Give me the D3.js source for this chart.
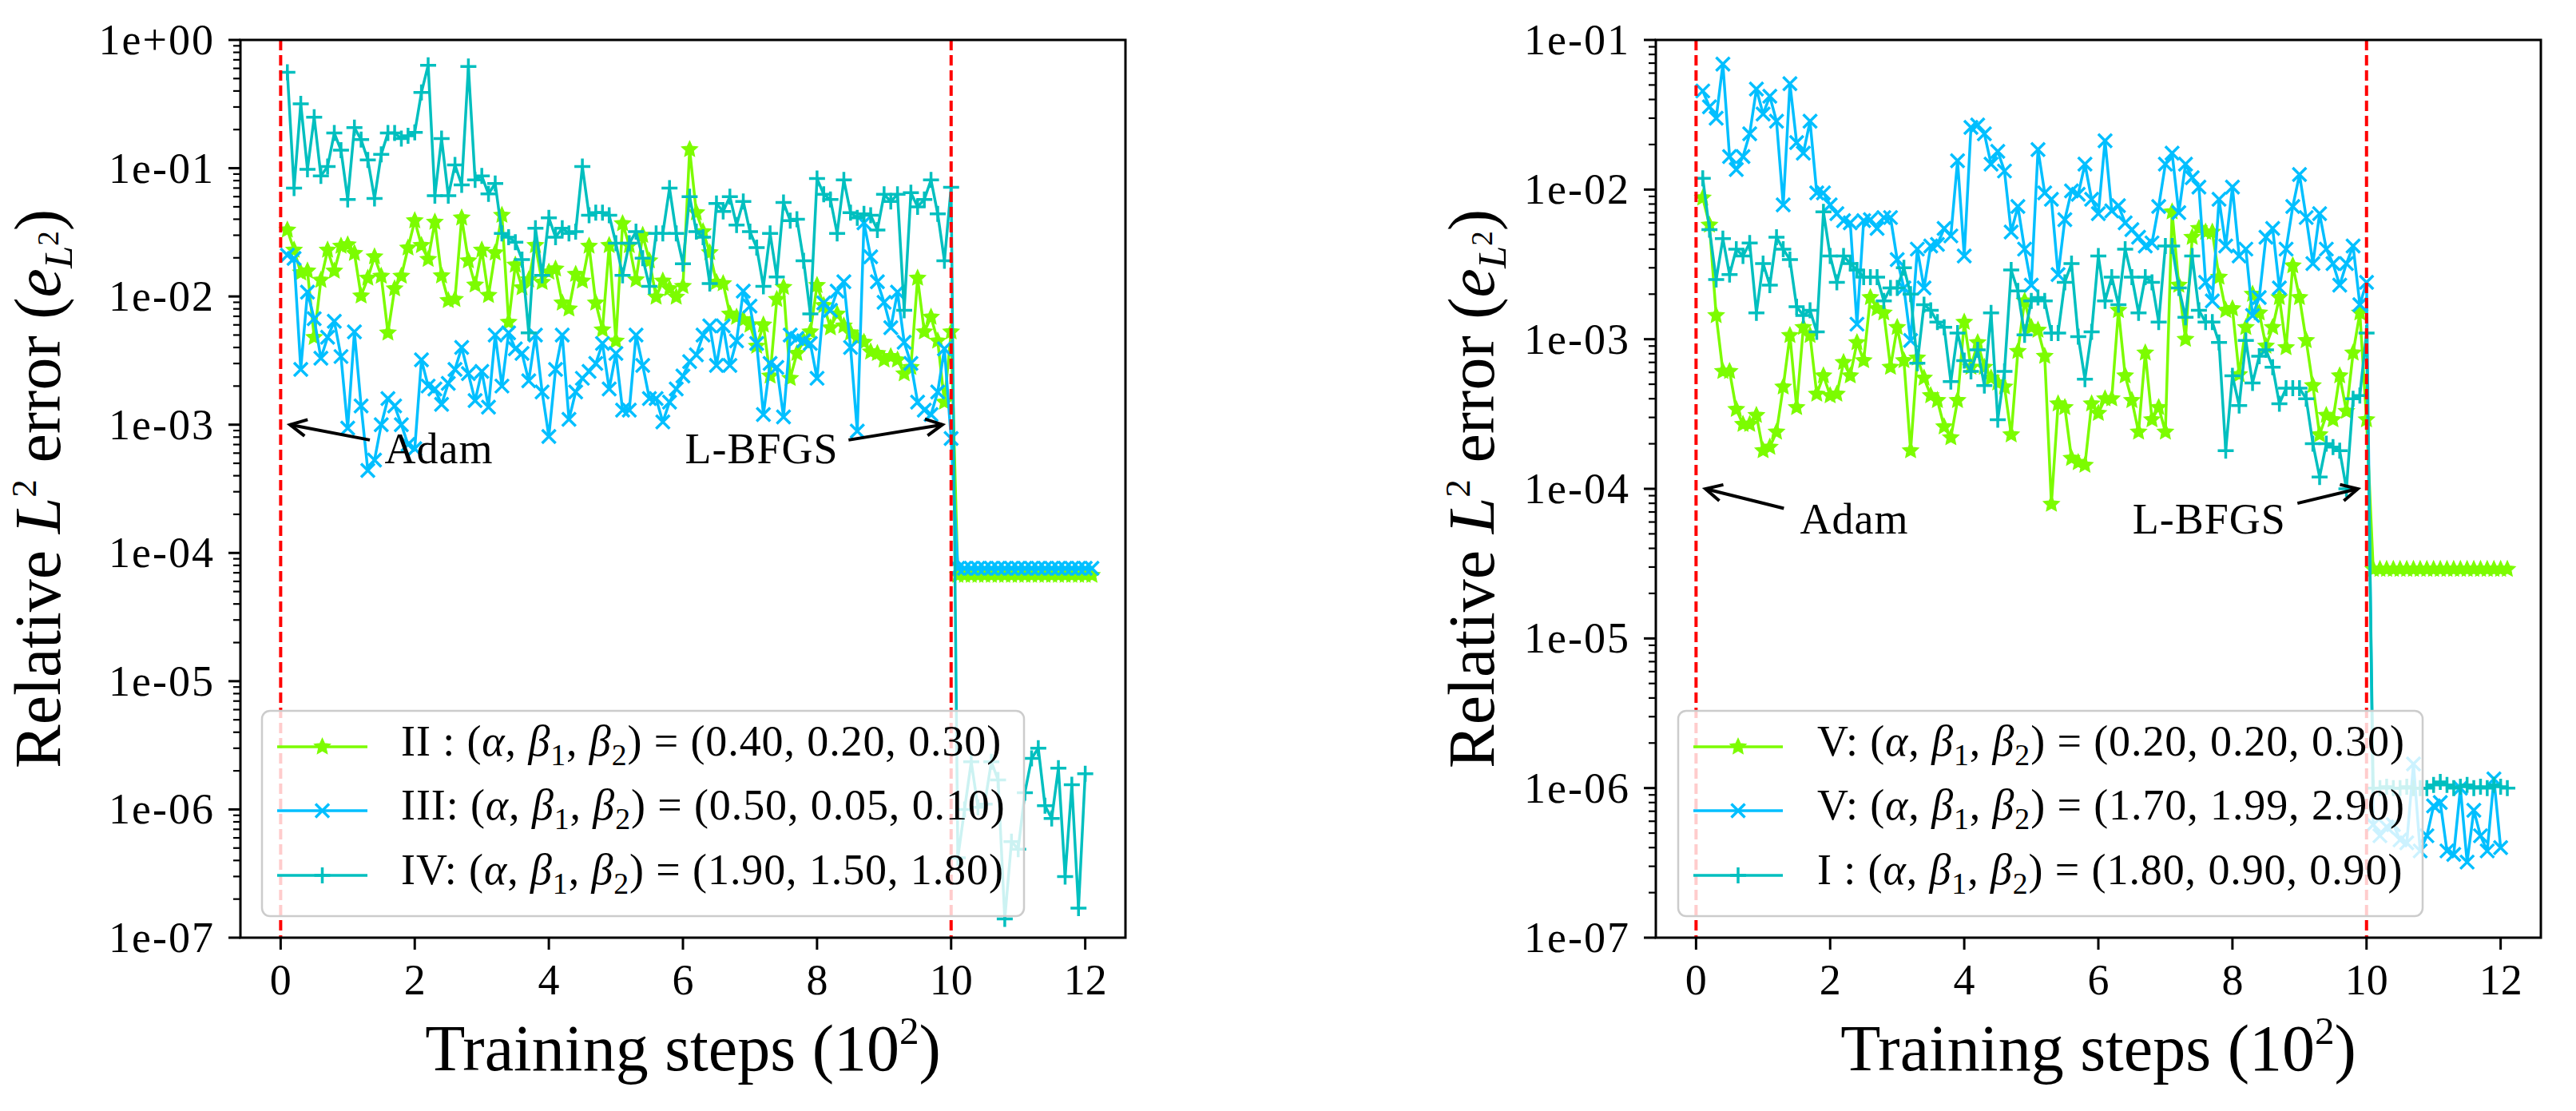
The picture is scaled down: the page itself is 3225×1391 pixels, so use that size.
<!DOCTYPE html>
<html><head><meta charset="utf-8">
<script src="https://cdn.jsdelivr.net/npm/d3@7"></script>
<style>
body{margin:0;background:#fff}
svg{display:block}
svg text, svg tspan{font-family:"Liberation Serif","DejaVu Serif","Times New Roman",Times,serif;fill:#000}
</style></head>
<body><svg id="chart" width="3225" height="1391" font-family="Liberation Serif, DejaVu Serif, serif"></svg>
<script>
// ---------------- DATA ----------------
// training steps (in units of 10^2); Adam phase 0.1..10.0, L-BFGS phase after 10
const adamSteps = d3.range(1, 101).map(i => i / 10);
const lbfgsSteps21 = d3.range(101, 122).map(i => i / 10);
const lbfgsSteps20 = d3.range(101, 121).map(i => i / 10);

// Left panel
const leftII_adam = [
 0.033,0.023,0.0153,0.0158,0.0048,0.0134,0.023,0.0158,0.0247,0.0253,
 0.0217,0.0101,0.0139,0.0204,0.0144,0.0052,0.0115,0.0144,0.0239,0.039,
 0.025,0.0195,0.038,0.0145,0.0093,0.0095,0.041,0.019,0.0123,0.023,
 0.0102,0.0219,0.043,0.0063,0.0176,0.0117,0.0135,0.025,0.0129,0.0155,
 0.0164,0.0089,0.008,0.0149,0.0132,0.0247,0.0089,0.0055,0.025,0.0045,
 0.037,0.025,0.0135,0.030,0.019,0.0099,0.0132,0.0115,0.0099,0.012,
 0.14,0.045,0.032,0.022,0.0129,0.0126,0.0073,0.0069,0.0066,0.006,
 0.0041,0.006,0.0024,0.0095,0.0118,0.0023,0.0036,0.0045,0.0053,0.0122,
 0.0085,0.0057,0.0073,0.0059,0.0052,0.0047,0.0044,0.0037,0.0036,0.0032,
 0.0034,0.0032,0.0025,0.0028,0.0139,0.0053,0.0069,0.0045,0.0015,0.0053];
const leftII_lbfgs = [6.7e-5,6.7e-5,6.7e-5,6.7e-5,6.7e-5,6.7e-5,6.7e-5,6.7e-5,6.7e-5,6.7e-5,6.7e-5,
 6.7e-5,6.7e-5,6.7e-5,6.7e-5,6.7e-5,6.7e-5,6.7e-5,6.7e-5,6.7e-5,6.7e-5];

const leftIII_adam = [
 0.021,0.0198,0.0027,0.0108,0.0067,0.0033,0.0048,0.0064,0.0034,0.00094,
 0.0053,0.0014,0.00044,0.00053,0.001,0.0016,0.0014,0.001,0.0007,0.00065,
 0.0032,0.002,0.0019,0.00144,0.0021,0.0027,0.004,0.0025,0.00154,0.0026,
 0.00137,0.005,0.002,0.0052,0.0039,0.0036,0.0022,0.005,0.0018,0.00081,
 0.0027,0.005,0.0011,0.0018,0.0023,0.0026,0.003,0.0043,0.0019,0.0036,
 0.0013,0.0013,0.005,0.0029,0.0016,0.0016,0.00105,0.0015,0.0019,0.0024,
 0.0031,0.0035,0.005,0.0059,0.0029,0.0059,0.0029,0.0045,0.011,0.0084,
 0.0043,0.0012,0.003,0.0028,0.00115,0.005,0.0047,0.0045,0.0043,0.0023,
 0.0089,0.0078,0.011,0.013,0.004,0.00089,0.0375,0.0204,0.013,0.009,
 0.0057,0.0108,0.0044,0.003,0.0015,0.0013,0.0012,0.0018,0.0039,0.00078];
const leftIII_lbfgs = [7.6e-5,7.6e-5,7.6e-5,7.6e-5,7.6e-5,7.6e-5,7.6e-5,7.6e-5,7.6e-5,7.6e-5,7.6e-5,
 7.6e-5,7.6e-5,7.6e-5,7.6e-5,7.6e-5,7.6e-5,7.6e-5,7.6e-5,7.6e-5,7.6e-5];

const leftIV_adam = [
 0.56,0.070,0.318,0.098,0.25,0.087,0.103,0.188,0.138,0.057,
 0.207,0.167,0.116,0.058,0.128,0.188,0.188,0.17,0.179,0.19,
 0.39,0.635,0.061,0.17,0.061,0.106,0.074,0.62,0.081,0.087,
 0.063,0.076,0.031,0.029,0.0265,0.0194,0.0052,0.034,0.0146,0.041,
 0.029,0.034,0.031,0.032,0.103,0.043,0.045,0.045,0.043,0.026,
 0.0146,0.026,0.032,0.0199,0.012,0.031,0.031,0.070,0.031,0.018,
 0.060,0.032,0.029,0.0126,0.053,0.046,0.060,0.036,0.055,0.032,
 0.024,0.012,0.031,0.0142,0.054,0.039,0.040,0.019,0.0073,0.083,
 0.0625,0.057,0.031,0.081,0.045,0.041,0.044,0.043,0.033,0.0625,
 0.055,0.0625,0.0078,0.0645,0.050,0.057,0.081,0.044,0.019,0.071];
const leftIV_lbfgs = [4.2e-7,1.0e-6,2.35e-6,1.04e-6,1.1e-6,2.35e-6,1.7e-6,1.4e-7,5.6e-7,4.9e-7,
 1.35e-6,2.5e-6,3.0e-6,1.07e-6,8.5e-7,2.1e-6,3.0e-7,1.56e-6,1.7e-7,1.9e-6];

// Right panel
const rightVa_adam = [
 0.0088,0.0058,0.00144,0.00061,0.00061,0.00034,0.00027,0.00027,0.00031,0.00018,
 0.00019,0.00024,0.00048,0.00106,0.00035,0.0012,0.00106,0.00043,0.00057,0.00042,
 0.00043,0.0007,0.00057,0.00095,0.00072,0.0019,0.0016,0.0015,0.00065,0.0012,
 0.00072,0.00018,0.00075,0.00055,0.00042,0.00039,0.00026,0.00022,0.00039,0.0013,
 0.00065,0.00095,0.00065,0.00055,0.00051,0.00048,0.00023,0.00083,0.0018,0.0012,
 0.00115,0.00077,0.000079,0.00037,0.00035,0.00016,0.00015,0.000144,0.00037,0.00032,
 0.0004,0.0004,0.00156,0.00057,0.00039,0.00024,0.00081,0.00029,0.00035,0.00024,
 0.0071,0.0023,0.001,0.0048,0.0055,0.0052,0.0052,0.0026,0.00156,0.0016,
 0.00058,0.0012,0.002,0.0015,0.0009,0.0012,0.0019,0.00088,0.0031,0.0019,
 0.00098,0.00049,0.00023,0.00031,0.00029,0.00057,0.00033,0.00081,0.0015,0.00029];
const rightVa_lbfgs = [2.9e-5,2.9e-5,2.9e-5,2.9e-5,2.9e-5,2.9e-5,2.9e-5,2.9e-5,2.9e-5,2.9e-5,2.9e-5,
 2.9e-5,2.9e-5,2.9e-5,2.9e-5,2.9e-5,2.9e-5,2.9e-5,2.9e-5,2.9e-5,2.9e-5];

const rightVb_adam = [
 0.0456,0.0357,0.030,0.069,0.0166,0.0136,0.0166,0.0236,0.047,0.032,
 0.042,0.0286,0.0079,0.051,0.0206,0.0175,0.0286,0.0095,0.0095,0.0079,
 0.0069,0.0062,0.006,0.00126,0.0062,0.0063,0.0055,0.0065,0.0065,0.0034,
 0.0022,0.00098,0.004,0.0022,0.0042,0.0043,0.0055,0.0049,0.0156,0.0036,
 0.026,0.027,0.0236,0.0148,0.018,0.0133,0.0052,0.0077,0.004,0.0023,
 0.0185,0.0095,0.0086,0.0027,0.0063,0.0098,0.0093,0.0148,0.0086,0.0069,
 0.0212,0.0072,0.0078,0.006,0.0054,0.0048,0.0042,0.0044,0.0077,0.0148,
 0.0175,0.007,0.0148,0.012,0.0104,0.0024,0.0018,0.0086,0.0042,0.0104,
 0.0036,0.004,0.00144,0.0019,0.0048,0.0055,0.0022,0.004,0.0077,0.0126,
 0.0065,0.0032,0.0069,0.004,0.0032,0.0023,0.0032,0.0042,0.0017,0.0024];
const rightVb_lbfgs = [5.7e-7,4.8e-7,5.5e-7,5.7e-7,4.5e-7,4.3e-7,1.45e-6,3.8e-7,4.8e-7,7.6e-7,
 8.0e-7,3.8e-7,3.6e-7,1.0e-6,3.2e-7,7.1e-7,4.8e-7,3.8e-7,1.15e-6,4.0e-7];

const rightI_adam = [
 0.0119,0.0054,0.0025,0.0047,0.0027,0.004,0.0036,0.0044,0.0015,0.0032,
 0.0023,0.0048,0.004,0.0034,0.00165,0.00144,0.00156,0.00112,0.0071,0.0036,
 0.0024,0.0036,0.0032,0.0029,0.0026,0.0026,0.0026,0.0018,0.0022,0.0022,
 0.003,0.002,0.00069,0.0017,0.00156,0.0013,0.0012,0.00052,0.0011,0.00072,
 0.00061,0.00085,0.00049,0.0015,0.00029,0.00061,0.0029,0.0021,0.00107,0.0018,
 0.0019,0.0018,0.0011,0.0011,0.0024,0.0032,0.00104,0.00054,0.00112,0.0036,
 0.0018,0.0026,0.0017,0.004,0.0026,0.0015,0.0026,0.0024,0.0013,0.0042,
 0.0042,0.0022,0.0014,0.0036,0.00156,0.0013,0.0013,0.00095,0.00018,0.00057,
 0.00036,0.00098,0.00051,0.00077,0.00085,0.00065,0.00037,0.00047,0.00047,0.00047,
 0.0004,0.0002,0.00012,0.0002,0.00019,0.00018,0.0001,0.0004,0.00042,0.0011];
const rightI_lbfgs = [1.0e-6,1.0e-6,1.02e-6,1.0e-6,1.0e-6,1.02e-6,1.0e-6,1.0e-6,1.0e-6,1.05e-6,1.1e-6,
 1.05e-6,1.0e-6,1.02e-6,1.05e-6,1.0e-6,1.02e-6,1.0e-6,1.05e-6,1.02e-6,1.0e-6];

const xTickValues = [0, 2, 4, 6, 8, 10, 12];
const leftYTicks = [1, 1e-1, 1e-2, 1e-3, 1e-4, 1e-5, 1e-6, 1e-7];
const leftYTickLabels = ["1e+00","1e-01","1e-02","1e-03","1e-04","1e-05","1e-06","1e-07"];
const rightYTicks = [1e-1, 1e-2, 1e-3, 1e-4, 1e-5, 1e-6, 1e-7];
const rightYTickLabels = ["1e-01","1e-02","1e-03","1e-04","1e-05","1e-06","1e-07"];
const phaseBoundaries = [0, 10];

const leftLegendNames = ["II :", "III:", "IV:"];
const leftLegendParams = ["(0.40, 0.20, 0.30)", "(0.50, 0.05, 0.10)", "(1.90, 1.50, 1.80)"];
const rightLegendNames = ["V:", "V:", "I :"];
const rightLegendParams = ["(0.20, 0.20, 0.30)", "(1.70, 1.99, 2.90)", "(1.80, 0.90, 0.90)"];

// annotations: text anchor, arrow start, arrow tip (data coords)
const leftAnnotations = [
  {text: "Adam",   at: [1.55, 5.0e-4], from: [1.33, 7.6e-4], to: [0.14, 1e-3]},
  {text: "L-BFGS", at: [6.03, 5.0e-4], from: [8.47, 7.6e-4], to: [9.87, 1e-3]}
];
const rightAnnotations = [
  {text: "Adam",   at: [1.55, 5.0e-5], from: [1.31, 7.4e-5], to: [0.14, 1e-4]},
  {text: "L-BFGS", at: [6.51, 5.0e-5], from: [8.97, 8.0e-5], to: [9.87, 1e-4]}
];

// ---------------- STYLE ----------------
const FONT = "'Liberation Serif', 'DejaVu Serif', 'Times New Roman', serif";
const C_GREEN = "#7CFC00", C_BLUE = "#00BFFF", C_TEAL = "#00BFBF";
const LW = 3.5;
const svg = d3.select("#chart");

function starPath(R, r) {
  const pts = [];
  for (let k = 0; k < 10; k++) {
    const a = -Math.PI / 2 + k * Math.PI / 5;
    const rr = k % 2 === 0 ? R : r;
    pts.push([rr * Math.cos(a), rr * Math.sin(a)]);
  }
  return "M" + pts.map(p => p[0].toFixed(2) + "," + p[1].toFixed(2)).join("L") + "Z";
}
const MARKERS = {
  star: {d: starPath(10.5, 5.0), fill: true},
  cross: {d: "M-8.5,-8.5L8.5,8.5M-8.5,8.5L8.5,-8.5", fill: false},
  plus: {d: "M-10,0H10M0,-10V10", fill: false}
};

function txt(sel) { return sel.append("text").attr("font-family", FONT); }

function richText(sel, parts, base) {
  let prev = 0;
  parts.forEach(p => {
    const sh = p.sh || 0, sc = p.sc || 1;
    const t = sel.append("tspan").text(p.t)
      .attr("font-family", FONT)
      .attr("font-size", base * sc)
      .attr("dy", (prev - sh) * base);
    if (p.it) t.attr("font-style", "italic");
    prev = sh;
  });
}

function legendParts(name, params) {
  return [
    {t: name + " ("}, {t: "\u03B1", it: 1}, {t: ", "}, {t: "\u03B2", it: 1},
    {t: "1", sh: -0.22, sc: 0.7}, {t: ", ", sh: 0}, {t: "\u03B2", it: 1},
    {t: "2", sh: -0.22, sc: 0.7}, {t: ")  =  " + params, sh: 0}
  ];
}

function drawPanel(cfg) {
  const g = svg.append("g");
  const x = d3.scaleLinear().domain([-0.6, 12.6]).range([cfg.left, cfg.right]);
  const y = d3.scaleLog().domain(cfg.yDomain).range([cfg.bottom, cfg.top]);
  const clipId = "clip" + cfg.id;
  svg.append("clipPath").attr("id", clipId).append("rect")
    .attr("x", cfg.left).attr("y", cfg.top)
    .attr("width", cfg.right - cfg.left).attr("height", cfg.bottom - cfg.top);
  const plot = g.append("g").attr("clip-path", `url(#${clipId})`);

  const line = d3.line().x(d => x(d[0])).y(d => y(d[1]));
  cfg.series.forEach(s => {
    const pts = s.xs.map((v, i) => [v, s.ys[i]]);
    plot.append("path").datum(pts).attr("d", line)
      .attr("fill", "none").attr("stroke", s.color).attr("stroke-width", LW)
      .attr("stroke-linejoin", "round");
    const m = MARKERS[s.marker];
    plot.append("g").selectAll("path").data(pts).join("path")
      .attr("d", m.d)
      .attr("transform", d => `translate(${x(d[0])},${y(d[1])})`)
      .attr("fill", m.fill ? s.color : "none")
      .attr("stroke", s.color).attr("stroke-width", m.fill ? 1.2 : LW);
  });

  // phase boundaries
  plot.selectAll("line.vb").data(phaseBoundaries).join("line")
    .attr("x1", d => x(d)).attr("x2", d => x(d))
    .attr("y1", cfg.top).attr("y2", cfg.bottom)
    .attr("stroke", "#ff0000").attr("stroke-width", 4)
    .attr("stroke-dasharray", "13,6");

  // annotations
  cfg.annotations.forEach(a => {
    txt(g).attr("x", x(a.at[0])).attr("y", y(a.at[1]))
      .attr("font-size", 54).attr("letter-spacing", 1).text(a.text);
    const x0 = x(a.from[0]), y0 = y(a.from[1]), x1 = x(a.to[0]), y1 = y(a.to[1]);
    g.append("line").attr("x1", x0).attr("y1", y0).attr("x2", x1).attr("y2", y1)
      .attr("stroke", "#000").attr("stroke-width", 4);
    const ang = Math.atan2(y0 - y1, x0 - x1), L = 23, da = 27 * Math.PI / 180;
    const w1 = [x1 + L * Math.cos(ang + da), y1 + L * Math.sin(ang + da)];
    const w2 = [x1 + L * Math.cos(ang - da), y1 + L * Math.sin(ang - da)];
    g.append("path").attr("d", `M${w1[0]},${w1[1]}L${x1},${y1}L${w2[0]},${w2[1]}`)
      .attr("fill", "none").attr("stroke", "#000").attr("stroke-width", 4)
      .attr("stroke-linejoin", "miter");
  });

  // legend
  const lg = cfg.legend;
  g.append("rect").attr("x", lg.x0).attr("y", lg.y0)
    .attr("width", lg.x1 - lg.x0).attr("height", lg.y1 - lg.y0)
    .attr("rx", 10).attr("ry", 10)
    .attr("fill", "#fff").attr("fill-opacity", 0.8)
    .attr("stroke", "#cccccc").attr("stroke-width", 2.5);
  cfg.series.forEach((s, i) => {
    const ly = lg.y0 + lg.rows[i];
    g.append("line").attr("x1", lg.lineX0).attr("x2", lg.lineX1)
      .attr("y1", ly).attr("y2", ly).attr("stroke", s.color).attr("stroke-width", LW);
    const m = MARKERS[s.marker];
    g.append("path").attr("d", m.d)
      .attr("transform", `translate(${(lg.lineX0 + lg.lineX1) / 2},${ly})`)
      .attr("fill", m.fill ? s.color : "none")
      .attr("stroke", s.color).attr("stroke-width", m.fill ? 1.2 : LW);
    const t = txt(g).attr("x", lg.textX).attr("y", ly + 11).attr("letter-spacing", 0.9);
    richText(t, legendParts(s.name, s.params), 54);
  });

  // spines
  g.append("rect").attr("x", cfg.left).attr("y", cfg.top)
    .attr("width", cfg.right - cfg.left).attr("height", cfg.bottom - cfg.top)
    .attr("fill", "none").attr("stroke", "#000").attr("stroke-width", 3);

  // y ticks (major + minor log)
  const allY = y.ticks(100);
  const isMajor = v => Math.abs(Math.log10(v) - Math.round(Math.log10(v))) < 1e-9;
  g.selectAll("line.ymin").data(allY.filter(v => !isMajor(v))).join("line")
    .attr("x1", cfg.left).attr("x2", cfg.left - 9)
    .attr("y1", d => y(d)).attr("y2", d => y(d))
    .attr("stroke", "#000").attr("stroke-width", 2.2);
  g.selectAll("line.ymaj").data(cfg.yTicks).join("line")
    .attr("x1", cfg.left).attr("x2", cfg.left - 15)
    .attr("y1", d => y(d)).attr("y2", d => y(d))
    .attr("stroke", "#000").attr("stroke-width", 3);
  g.selectAll("text.yl").data(cfg.yTicks).join("text")
    .attr("font-family", FONT)
    .attr("x", cfg.left - 32).attr("y", d => y(d) + 18)
    .attr("text-anchor", "end").attr("font-size", 54).attr("letter-spacing", 2)
    .text((d, i) => cfg.yTickLabels[i]);

  // x ticks
  g.selectAll("line.xt").data(xTickValues).join("line")
    .attr("x1", d => x(d)).attr("x2", d => x(d))
    .attr("y1", cfg.bottom).attr("y2", cfg.bottom + 15)
    .attr("stroke", "#000").attr("stroke-width", 3);
  g.selectAll("text.xl").data(xTickValues).join("text")
    .attr("font-family", FONT)
    .attr("x", d => x(d)).attr("y", cfg.bottom + 71)
    .attr("text-anchor", "middle").attr("font-size", 54)
    .text(d => String(d));

  // axis labels
  const xl = txt(g).attr("x", (cfg.left + cfg.right) / 2).attr("y", 1340)
    .attr("text-anchor", "middle");
  richText(xl, [{t: "Training steps (10"}, {t: "2", sh: 0.4, sc: 0.6}, {t: ")", sh: 0}], 82);

  const yl = txt(g)
    .attr("transform", `translate(${cfg.ylabelX},${(cfg.top + cfg.bottom) / 2}) rotate(-90)`)
    .attr("text-anchor", "middle");
  richText(yl, [
    {t: "Relative "}, {t: "L", it: 1}, {t: "2", sh: 0.36, sc: 0.55}, {t: " error (", sh: 0},
    {t: "e", it: 1}, {t: "L", it: 1, sh: -0.18, sc: 0.62}, {t: "2", sh: 0.02, sc: 0.45}, {t: ")", sh: 0}
  ], 82);
}

drawPanel({
  id: "L", left: 301, right: 1409, top: 50, bottom: 1174,
  yDomain: [1e-7, 1], yTicks: leftYTicks, yTickLabels: leftYTickLabels, ylabelX: 75,
  series: [
    {xs: adamSteps.concat(lbfgsSteps21), ys: leftII_adam.concat(leftII_lbfgs), color: C_GREEN, marker: "star", name: leftLegendNames[0], params: leftLegendParams[0]},
    {xs: adamSteps.concat(lbfgsSteps21), ys: leftIII_adam.concat(leftIII_lbfgs), color: C_BLUE, marker: "cross", name: leftLegendNames[1], params: leftLegendParams[1]},
    {xs: adamSteps.concat(lbfgsSteps20), ys: leftIV_adam.concat(leftIV_lbfgs), color: C_TEAL, marker: "plus", name: leftLegendNames[2], params: leftLegendParams[2]}
  ],
  annotations: leftAnnotations,
  legend: {x0: 328, x1: 1282, y0: 890, y1: 1147, rows: [45, 125, 206], lineX0: 347, lineX1: 460, textX: 502}
});

drawPanel({
  id: "R", left: 2073, right: 3181, top: 50, bottom: 1174,
  yDomain: [1e-7, 1e-1], yTicks: rightYTicks, yTickLabels: rightYTickLabels, ylabelX: 1870,
  series: [
    {xs: adamSteps.concat(lbfgsSteps21), ys: rightVa_adam.concat(rightVa_lbfgs), color: C_GREEN, marker: "star", name: rightLegendNames[0], params: rightLegendParams[0]},
    {xs: adamSteps.concat(lbfgsSteps20), ys: rightVb_adam.concat(rightVb_lbfgs), color: C_BLUE, marker: "cross", name: rightLegendNames[1], params: rightLegendParams[1]},
    {xs: adamSteps.concat(lbfgsSteps21), ys: rightI_adam.concat(rightI_lbfgs), color: C_TEAL, marker: "plus", name: rightLegendNames[2], params: rightLegendParams[2]}
  ],
  annotations: rightAnnotations,
  legend: {x0: 2101, x1: 3033, y0: 890, y1: 1147, rows: [45, 125, 206], lineX0: 2120, lineX1: 2232, textX: 2275}
});
</script></body></html>
